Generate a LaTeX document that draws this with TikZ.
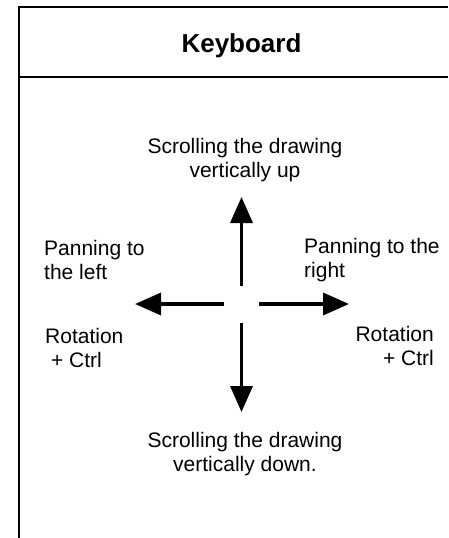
\documentclass[tikz,border=0pt]{standalone}
\usepackage{fontspec}
\setmainfont{Liberation Sans}
\usetikzlibrary{arrows.meta}

\tikzset{
  frameline/.style={line width=2pt, black},
  label/.style={inner sep=0pt, font=\fontsize{21}{24}\selectfont},
  title/.style={inner sep=0pt, font=\fontsize{26}{30}\selectfont\bfseries},
  move/.style={line width=3.5pt, -{Triangle[length=26pt,width=22pt]}},
}

\begin{document}
\begin{tikzpicture}[x=1pt,y=-1pt]
  \useasboundingbox (0,0) rectangle (448,538);

  % table frame: open at the right and bottom edges
  \coordinate (tl) at (18.5,7);
  \coordinate (tr) at (448,7);
  \coordinate (bl) at (18.5,538);
  \coordinate (hl) at (18.5,77);
  \coordinate (hr) at (448,77);
  \draw[frameline] (tr) -- (tl) -- (bl);
  \draw[frameline] (hl) -- (hr);

  \node[title, anchor=base] (head) at (241.5,52) {Keyboard};

  % direction arrows around the centre point
  \coordinate (c) at (241.5,304);
  \coordinate (upS)    at (241.5,286);
  \coordinate (upE)    at (241.5,197);
  \coordinate (downS)  at (241.5,323);
  \coordinate (downE)  at (241.5,412);
  \coordinate (leftS)  at (224,304);
  \coordinate (leftE)  at (135,304);
  \coordinate (rightS) at (259,304);
  \coordinate (rightE) at (349,304);

  \draw[move] (upS) -- (upE);
  \draw[move] (downS) -- (downE);
  \draw[move] (leftS) -- (leftE);
  \draw[move] (rightS) -- (rightE);

  % descriptions
  \node[label, anchor=north, align=center] (up) at (245,138)
    {Scrolling the drawing\\vertically up};
  \node[label, anchor=north, align=center] (down) at (245,432)
    {Scrolling the drawing\\vertically down.};
  \node[label, anchor=north west, align=left] (panl) at (44,240)
    {Panning to\\the left};
  \node[label, anchor=north west, align=left] (panr) at (304,238)
    {Panning to the\\right};
  \node[label, anchor=north west, align=left] (rotl) at (45,328)
    {Rotation\\\hspace*{0.28em}+ Ctrl};
  \node[label, anchor=north east, align=right] (rotr) at (434,326)
    {Rotation\\+ Ctrl};
\end{tikzpicture}
\end{document}
